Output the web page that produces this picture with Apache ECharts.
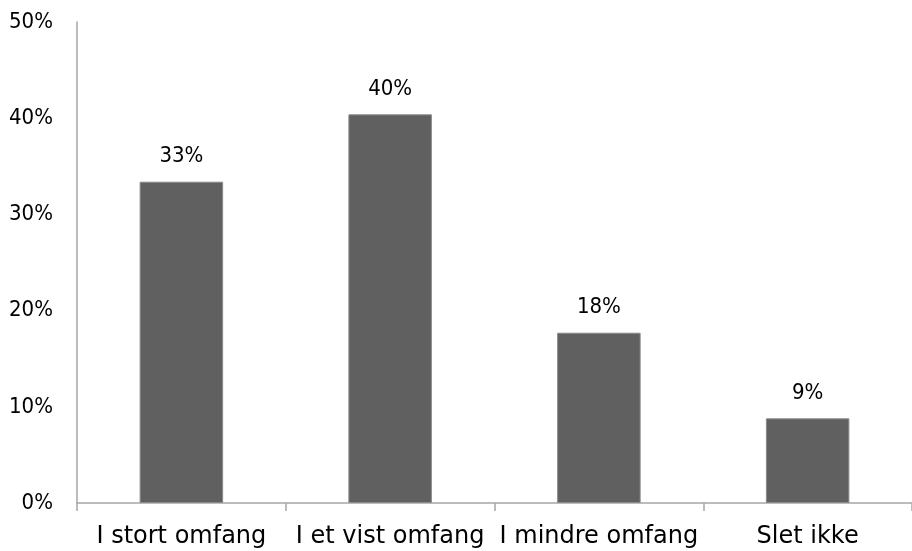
<!DOCTYPE html>
<html><head><meta charset="utf-8">
<script src="https://cdn.jsdelivr.net/npm/echarts@6/dist/echarts.min.js"></script>
<style>html,body{margin:0;padding:0;background:#fff}#c{width:912px;height:551px}</style>
</head><body><div id="c"></div>
<script>
var categories = ['I stort omfang', 'I et vist omfang', 'I mindre omfang', 'Slet ikke'];
var values = [33.4, 40.4, 17.7, 8.8];
var yTicks = [0, 10, 20, 30, 40, 50];

var chart = echarts.init(document.getElementById('c'));
var font = 'DejaVu Sans';
var numFont = 'DejaVu Sans Condensed';
chart.setOption({
  animation: false,
  grid: { left: 77, right: -10, top: 22, bottom: 48 },
  xAxis: {
    type: 'category', data: categories,
    axisLine: { lineStyle: { color: '#a6a6a6', width: 1.5 } },
    axisTick: { show: true, length: 8, lineStyle: { color: '#a6a6a6', width: 1.5 } },
    axisLabel: { color: '#000', fontFamily: font, fontSize: 24, margin: 22, interval: 0, hideOverlap: false }
  },
  yAxis: {
    type: 'value', min: yTicks[0], max: yTicks[yTicks.length - 1], interval: 10,
    axisLine: { show: true, lineStyle: { color: '#a6a6a6', width: 1.5 } },
    axisTick: { show: false },
    splitLine: { show: false },
    axisLabel: { color: '#000', fontFamily: numFont, fontSize: 22, margin: 24, formatter: function (v) { return v + '%'; } }
  },
  series: [{
    type: 'bar', data: values, barWidth: '40%',
    itemStyle: { color: '#606060', borderColor: '#8a8a8a', borderWidth: 1 },
    label: { show: true, position: 'top', distance: 14, color: '#000', fontFamily: numFont, fontSize: 22,
      formatter: function (p) { return Math.round(p.value) + '%'; } }
  }]
});
</script></body></html>
